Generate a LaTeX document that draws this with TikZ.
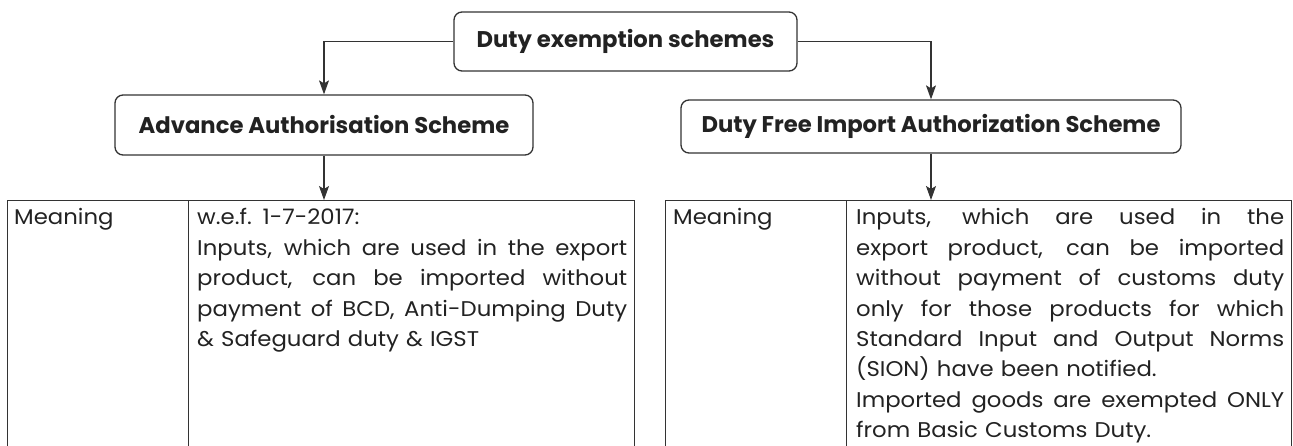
\documentclass[tikz,border=0pt]{standalone}
\usepackage{fontspec}
\setmainfont{Poppins}
\newfontfamily\bodyfont[FakeStretch=1.07]{Poppins}
\usetikzlibrary{arrows.meta}
\definecolor{ink}{HTML}{222222}
\definecolor{rule}{HTML}{333333}
\tikzset{
  x=1pt, y=-1pt,
  titlebox/.style={draw=rule, line width=1.3pt, rounded corners=8pt, inner sep=0pt,
    font=\fontsize{22.7}{26}\selectfont\bfseries, text=ink},
  cell/.style={draw=rule, line width=1.2pt, inner sep=0pt, anchor=north west},
  txt/.style={inner sep=0pt, anchor=base west, align=left, text=ink,
    font=\bodyfont\fontsize{21.3}{30.4}\selectfont},
  conn/.style={draw=rule, line width=1.1pt, -{Stealth[length=14pt,width=10pt,inset=3pt]}},
}
% a justified line of fixed width: the spaces share the free room
\newcommand{\jline}[2]{\makebox[#1pt][s]{\spaceskip=0.26em plus 1fil\xspaceskip=0.26em plus 1fil\relax #2}\\}
\begin{document}
\begin{tikzpicture}
\useasboundingbox (0,0) rectangle (1293,446);
% title boxes
\node[titlebox, minimum width=343, minimum height=59] (top) at (625.5,41.5) {Duty exemption schemes};
\node[titlebox, minimum width=418, minimum height=60] (la) at (324,125) {Advance Authorisation Scheme};
\node[titlebox, minimum width=500, minimum height=53] (ra) at (931,126.5) {Duty Free Import Authorization Scheme};
% tables (open at the bottom, cut by the page edge)
\node[cell, minimum width=181, minimum height=260] (lm) at (7,200) {};
\node[cell, minimum width=446, minimum height=260] (lt) at (188,200) {};
\node[cell, minimum width=181, minimum height=260] (rm) at (665,200) {};
\node[cell, minimum width=445, minimum height=260] (rt) at (846,200) {};
\coordinate (ltop) at (324,200);
\coordinate (rtop) at (931,200);
% texts
\node[txt] (lmt) at (14,225) {Meaning};
\node[txt, text width=430] (ltt) at (197,225) {%
w.e.f. 1-7-2017:\\
\jline{430}{Inputs, which are used in the export}
\jline{430}{product, can be imported without}
\jline{430}{payment of BCD, Anti-Dumping Duty}
\& Safeguard duty \& IGST};
\node[txt] (rmt) at (673,225) {Meaning};
\node[txt, text width=428] (rtt) at (856,225) {%
\jline{428}{Inputs, which are used in the}
\jline{428}{export product, can be imported}
\jline{428}{without payment of customs duty}
\jline{428}{only for those products for which}
\jline{428}{Standard Input and Output Norms}
(SION) have been notified.\\
\jline{428}{Imported goods are exempted ONLY}
from Basic Customs Duty.};
% connectors
\draw[conn] (top.west) -| (la.north);
\draw[conn] (top.east) -| (ra.north);
\draw[conn] (la.south) -- (ltop);
\draw[conn] (ra.south) -- (rtop);
\end{tikzpicture}
\end{document}
